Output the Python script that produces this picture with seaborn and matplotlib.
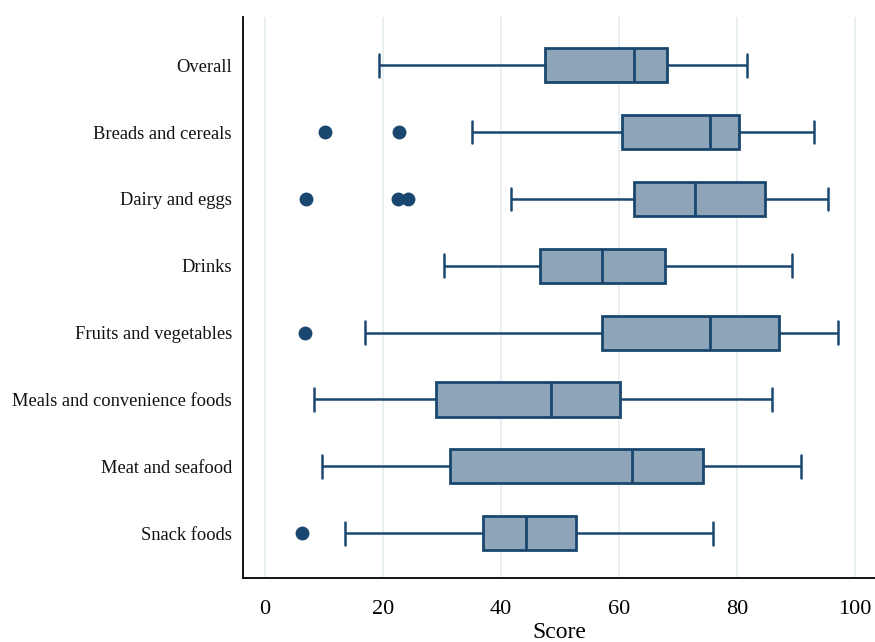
import numpy as np
import pandas as pd
import matplotlib
matplotlib.use("Agg")
import matplotlib.pyplot as plt
import seaborn as sns

categories = ["Overall", "Breads and cereals", "Dairy and eggs", "Drinks",
              "Fruits and vegetables", "Meals and convenience foods",
              "Meat and seafood", "Snack foods"]
whisker_low = [19.3, 35.1, 41.8, 30.3, 16.9, 8.4, 9.7, 13.6]
q1 = [47.5, 60.5, 62.6, 46.6, 57.2, 29.0, 31.4, 36.9]
median = [62.5, 75.4, 72.9, 57.1, 75.5, 48.5, 62.3, 44.2]
q3 = [68.1, 80.3, 84.8, 67.8, 87.1, 60.2, 74.2, 52.7]
whisker_high = [81.7, 93.0, 95.4, 89.3, 97.2, 85.9, 90.9, 75.9]
outliers = [[], [10.2, 22.7], [6.9, 22.6, 24.3], [], [6.8], [], [], [6.3]]
xticks = [0, 20, 40, 60, 80, 100]

# Build sample values whose quartiles/whiskers reproduce the read statistics
rows = []
for i, cat in enumerate(categories):
    lower = sorted(outliers[i]) + [whisker_low[i]]
    upper = [whisker_high[i]]
    k = max(len(lower), len(upper))
    vals = (lower + [q1[i]] * (k - len(lower) + 1) + [median[i]] * k
            + [q3[i]] * k + [q3[i]] * (k - len(upper)) + upper)
    for v in vals:
        rows.append((cat, v))
df = pd.DataFrame(rows, columns=["category", "Score"])

sns.set_theme(style="white")
plt.rcParams["font.family"] = ["Liberation Serif", "DejaVu Serif"]

navy = "#1a476f"
fill = "#8ea4b8"

fig = plt.figure(figsize=(8.75, 6.42), dpi=100)
ax = fig.add_axes([243 / 875, 1 - 578 / 642, (875 - 243) / 875, (578 - 17) / 642])

for x in xticks:
    ax.axvline(x, color="#e6eff3", lw=1.3, zorder=0)

sns.boxplot(data=df, x="Score", y="category", order=categories, orient="h",
            color=fill, linecolor=navy, linewidth=2.0, width=0.51,
            whis=1.5, fliersize=0, capwidths=0.34,
            boxprops=dict(facecolor=fill, edgecolor=navy),
            medianprops=dict(color=navy, linewidth=2.0),
            whiskerprops=dict(color=navy, linewidth=1.8),
            capprops=dict(color=navy, linewidth=1.8),
            showfliers=False, ax=ax)

for i, cat in enumerate(categories):
    if outliers[i]:
        ax.scatter(outliers[i], [i] * len(outliers[i]), s=100, color=navy,
                   zorder=5, linewidths=0)

ax.set_xlim(-3.7, 103.4)
ax.set_ylim(7.67, -0.72)
ax.set_xticks(xticks)
ax.set_xticklabels([str(t) for t in xticks], fontsize=16, color="black")
ax.set_yticks(range(len(categories)))
ax.set_yticklabels(categories, fontsize=13.3, color="#111111")
ax.set_xlabel("Score", fontsize=17, labelpad=2, color="black")
ax.set_ylabel("")
ax.tick_params(axis="x", length=7.5, width=1.2, color="black", direction="out", pad=8.5)
ax.tick_params(axis="y", length=0, pad=8)
for s in ["top", "right"]:
    ax.spines[s].set_visible(False)
for s in ["left", "bottom"]:
    ax.spines[s].set_color("black")
    ax.spines[s].set_linewidth(1.3)

fig.savefig("out.png", dpi=100)
